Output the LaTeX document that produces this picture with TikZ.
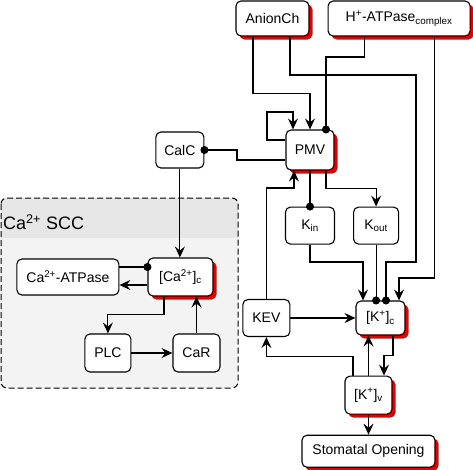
\documentclass[tikz,border=0pt]{standalone}
\usepackage{fontspec}
\setmainfont{Liberation Sans}
\usepackage{tikz}
\usetikzlibrary{shadows, arrows.meta, positioning}
\definecolor{scc_body}{RGB}{243, 243, 243}
\definecolor{scc_head}{RGB}{230, 230, 230}
\definecolor{my_red}{RGB}{230, 0, 0}
\tikzset {
  box/.style = {draw, line width=1.1pt, rounded corners=5pt, rectangle, fill=white, minimum height=37pt, inner sep=2pt, font=\fontsize{14}{16}\selectfont},
  shadowed/.style = {drop shadow={shadow xshift=3.5pt, shadow yshift=-3.5pt, fill=my_red, opacity=1}},
  line/.style = {-{Stealth[length=11pt, width=10pt, inset=4pt]}, line width=1.1pt, color=black},
  dotline/.style = {-{Circle[length=8pt]}, line width=1.1pt, color=black, shorten >=-4pt},
  sccbox/.style = {draw, dashed, dash pattern=on 6pt off 3pt, line width=1pt, rounded corners=6pt}
}

\begin{document}
\begin{tikzpicture}[x=1pt, y=-1pt]
    \useasboundingbox (0,0) rectangle (473,469);

    % Ca2+ SCC group
    \begin{scope}
      \clip[rounded corners=6pt] (1,198) rectangle (238,388);
      \fill[scc_body] (1,198) rectangle (238,388);
      \fill[scc_head] (1,198) rectangle (238,238);
    \end{scope}
    \draw[sccbox] (1,198) rectangle (238,388);
    \node[anchor=west, inner sep=0, font=\fontsize{18}{20}\selectfont] (scclabel) at (3,222) {Ca\textsuperscript{2+} SCC};

    \node[box, shadowed, minimum width=48pt, minimum height=40pt] (pmv) at (310,150) {PMV};
    \node[box, shadowed, minimum width=73pt, minimum height=35pt] (anion) at (272.5,18.5) {AnionCh};
    \node[box, shadowed, minimum width=142pt, minimum height=35pt, right=18pt of anion] (hatp) {H\textsuperscript{+}-ATPase\textsubscript{complex}};
    \node[box, minimum width=48pt, minimum height=36pt, left=81pt of pmv] (calc) {CalC};
    \node[box, minimum width=49pt, below=36pt of pmv] (kin) {K\textsubscript{in}};
    \node[box, minimum width=45pt, right=18pt of kin] (kout) {K\textsubscript{out}};
    \node[box, shadowed, minimum width=49pt, minimum height=34pt] (kc) at (380.5,318) {[K\textsuperscript{+}]\textsubscript{c}};
    \node[box, minimum width=47pt, left=65pt of kc] (kev) {KEV};
    \node[box, shadowed, minimum width=47pt, minimum height=38pt, below=40pt of kc, xshift=-12pt] (kv) {[K\textsuperscript{+}]\textsubscript{v}};
    \node[box, shadowed, minimum width=133pt, minimum height=32pt, below=20pt of kv] (stom) {Stomatal Opening};

    \node[box, shadowed, minimum width=65pt, minimum height=38pt] (cac) at (180.5,277) {[Ca\textsuperscript{2+}]\textsubscript{c}};
    \node[box, minimum width=102pt, minimum height=36pt, left=28pt of cac] (caatp) {Ca\textsuperscript{2+}-ATPase};
    \node[box, minimum width=47pt, minimum height=38pt] (car) at (196.5,353) {CaR};
    \node[box, minimum width=46pt, minimum height=38pt, left=41pt of car] (plc) {PLC};

    % plasma membrane
    \draw[line] ([xshift=-19.5pt]anion.south) -- ++(0,57) -| (pmv.north);
    \draw[dotline] ([xshift=17.5pt]anion.south) |- (416,75) |- (386,262) -- ([xshift=5.5pt]kc.north);
    \draw[dotline] ([xshift=-35pt]hatp.south) |- (326,57) -- ([xshift=16pt]pmv.north);
    \draw[line] ([xshift=35pt]hatp.south) |- (399,278) -- ([xshift=18.5pt]kc.north);
    \draw[line] ([yshift=10pt]pmv.west) -| (267,112) -| ([xshift=-17pt]pmv.north);
    \draw[dotline] ([yshift=-10pt]pmv.west) -| (237,150) -- (calc.east);
    \draw[dotline] (pmv.south) -- (pmv.south |- kin.north);
    \draw[line] ([xshift=16pt]pmv.south) -- ++(0,18) -| (kout.north);
    \draw[line] (kev.north) |- (294,188) -- ([xshift=-16pt]pmv.south);

    % calcium
    \draw[line] (calc.south) -- (calc.south |- cac.north);
    \draw[line] ([yshift=-8pt]cac.west) -- ([yshift=-8pt]cac.west -| caatp.east);
    \draw[dotline] ([yshift=10pt]cac.west -| caatp.east) -- ([yshift=10pt]cac.west);
    \draw[line] ([xshift=-16.5pt]cac.south) -- ++(0,18) -| (plc.north);
    \draw[line] (plc.east) -- (car.west);
    \draw[line] (car.north) -- (car.north |- cac.south);

    % potassium
    \draw[line] (kin.south) |- (363,262) -- ([xshift=-17.5pt]kc.north);
    \draw[dotline] (kout.south) -- (kout.south |- kc.north);
    \draw[line] (kev.east) -- (kev.east -| kc.west);
    \draw[line] (kv.north) -- (kv.north |- kc.south);
    \draw[line] ([xshift=12.5pt]kc.south) -- ++(0,20) -| ([xshift=15.5pt]kv.north);
    \draw[line] ([xshift=-15.5pt]kv.north) -- ++(0,-19) -| (kev.south);
    \draw[line] (kv.south) -- (stom.north);

\end{tikzpicture}
\end{document}
